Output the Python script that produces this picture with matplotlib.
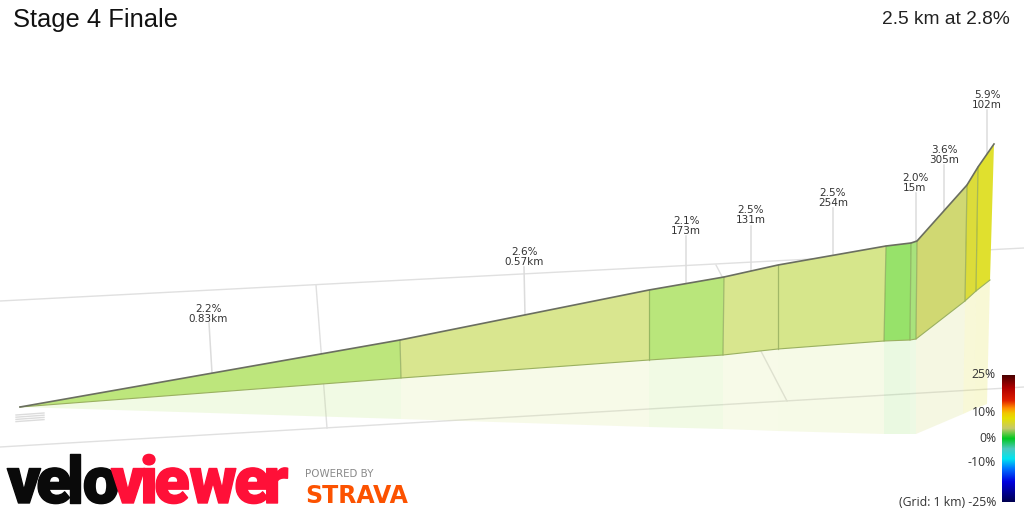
import numpy as np
import matplotlib
matplotlib.use('Agg')
import matplotlib.pyplot as plt
import matplotlib.patheffects as pe
from matplotlib.colors import LinearSegmentedColormap

# profile corners (screen pixels)
top_x = [20, 400, 649, 724, 778, 886, 911, 917, 967, 978, 994]
top_y = [407, 340, 290, 277, 265, 246, 243, 241, 185, 167, 144]
base_x = [20, 401, 649, 723, 778, 884, 910, 916, 965, 976, 990]
base_y = [407, 378, 360, 355, 349, 341, 340, 339, 301, 291, 280]
floor_x = [20, 401, 649, 723, 778, 884, 910, 916, 963, 974, 987]
floor_y = [407, 419, 427, 429, 431, 434, 434, 434, 414, 409, 404]
seg_colors = ['#bde67c', '#d9e68f', '#b9e67b', '#d8e68e', '#d6e68b',
              '#97e26a', '#a8e27c', '#d0d872', '#dcdc3a', '#e0e02e']

# climb labels
label_text = ['2.2%\n0.83km', '2.6%\n0.57km', '2.1%\n173m', '2.5%\n131m',
              '2.5%\n254m', '2.0%\n15m', '3.6%\n305m', '5.9%\n102m']
label_x = [208, 524, 686, 751, 833, 915, 944, 987]
label_y = [314, 257, 226, 215, 198, 183, 155, 100]
leader_x_top = [209, 524, 686, 751, 833, 916, 944, 987]
leader_x_bot = [212, 525, 686, 751, 833, 916, 944, 987]
leader_top = [323, 267, 236, 226, 208, 193, 165, 110]
leader_bot = [373, 316, 283, 272, 254, 241, 210, 155]

# grid lines
grid_lines = [([0, 1024], [301, 248]), ([0, 1024], [447, 387]),
              ([316, 327], [285, 428]), ([716, 787], [265, 401])]

# colour scale
scale_vals = [-25, -17, -12, -8, -4, 0, 4, 8, 10, 12, 15, 20, 25]
scale_cols = ['#000050', '#0000e0', '#0070ff', '#00e5f0', '#4cc9c0', '#00c820', '#c5c96a',
              '#e6e000', '#f0c800', '#ff9000', '#e02000', '#b00000', '#4a0000']
scale_ticklabels = ['25%', '10%', '0%', '-10%', '(Grid: 1 km) -25%']
scale_px = [375, 413, 438, 463, 502]

# logo letters
velo_letters = ['v', 'e', 'l', 'o']
velo_x = [24, 54, 75, 101]
viewer_letters = ['v', 'i', 'e', 'w', 'e', 'r']
viewer_x = [128, 149, 172, 213, 252, 276]

fig = plt.figure(figsize=(10.24, 5.12), dpi=100)
ax = fig.add_axes([0, 0, 1, 1])
ax.set_xlim(0, 1024)
ax.set_ylim(512, 0)
ax.axis('off')

for gx, gy in grid_lines:
    ax.plot(gx, gy, color='#e0e0e0', lw=1, zorder=1)

# faint start marker
for i in range(4):
    ax.plot([16, 44], [415 + i * 2.2, 413 + i * 2.2], color='#dcdcdc', lw=1, zorder=1)

# shadow wall then main wall
for i in range(len(seg_colors)):
    ax.fill([base_x[i], base_x[i + 1], floor_x[i + 1], floor_x[i]],
            [base_y[i], base_y[i + 1], floor_y[i + 1], floor_y[i]],
            color=seg_colors[i], alpha=0.2, lw=0, zorder=2)
for i in range(len(seg_colors)):
    ax.fill([top_x[i], top_x[i + 1], base_x[i + 1], base_x[i]],
            [top_y[i], top_y[i + 1], base_y[i + 1], base_y[i]],
            color=seg_colors[i], lw=0, zorder=3)
    if i < len(seg_colors) - 1:
        ax.plot([top_x[i + 1], base_x[i + 1]], [top_y[i + 1], base_y[i + 1]],
                color='#7f9a50', alpha=0.6, lw=0.9, zorder=4)
ax.plot(base_x, base_y, color='#9ab060', lw=0.8, zorder=4)
ax.plot(top_x, top_y, color='#6a6e60', lw=1.2, zorder=5)

# leader lines and labels
for i in range(len(label_text)):
    ax.plot([leader_x_top[i], leader_x_bot[i]], [leader_top[i], leader_bot[i]],
            color='#dcdcdc', lw=1.1, zorder=1.5)
    ax.text(label_x[i], label_y[i], label_text[i], ha='center', va='center', fontsize=7.5,
            family='DejaVu Sans', color='#333333', linespacing=0.95, zorder=6)

# titles
ax.text(13, 20, 'Stage 4 Finale', ha='left', va='center', fontsize=18.4,
        family='Liberation Sans', color='#111111')
ax.text(1010, 19, '2.5 km at 2.8%', ha='right', va='center', fontsize=13.8,
        family='Liberation Sans', color='#222222')

# colour scale
cmap = LinearSegmentedColormap.from_list(
    'grade', [((v + 25) / 50, c) for v, c in zip(scale_vals, scale_cols)])
grad = np.linspace(25, -25, 256).reshape(-1, 1)
ax.imshow(grad, cmap=cmap, vmin=-25, vmax=25, extent=[1002, 1015, 502, 375],
          aspect='auto', zorder=6)
ax.set_xlim(0, 1024)
ax.set_ylim(512, 0)
for lab, y in zip(scale_ticklabels, scale_px):
    ax.text(996, y, lab, ha='right', va='center', fontsize=8.8,
            family='Open Sans', color='#333333', zorder=7)

# logos
for ch, x in zip(velo_letters, velo_x):
    t = ax.text(x, 503, ch, ha='center', va='baseline', fontsize=47, family='Roboto',
                fontweight=900, color='#0a0a0a', zorder=7)
    t.set_path_effects([pe.withStroke(linewidth=1, foreground='#0a0a0a')])
for ch, x in zip(viewer_letters, viewer_x):
    t = ax.text(x, 503, ch, ha='center', va='baseline', fontsize=47, family='Roboto',
                fontweight=900, color='#ff1038', zorder=7)
    t.set_path_effects([pe.withStroke(linewidth=1, foreground='#ff1038')])
ax.text(305, 474, 'POWERED BY', ha='left', va='center', fontsize=7.4, family='DejaVu Sans',
        color='#8a8a8a', zorder=7)
ax.text(305, 503, 'STRAVA', ha='left', va='baseline', fontsize=17, family='DejaVu Sans',
        fontweight='bold', color='#fc5200', zorder=7)

fig.savefig('out.png', dpi=100)
